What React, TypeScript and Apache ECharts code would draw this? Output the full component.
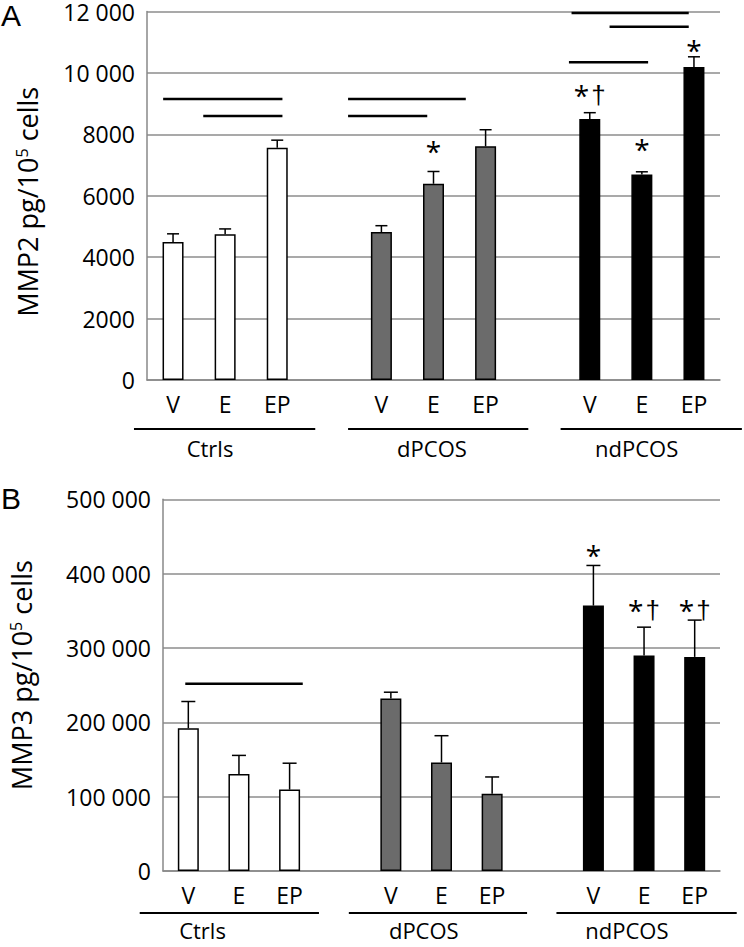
import React, { useEffect, useRef } from 'react';
import * as echarts from 'echarts';

const FONT = '"Open Sans", "Liberation Sans", sans-serif';
const MARK_FONT = '"Liberation Sans", Arial, sans-serif';

// ---------- data ----------
const categories = ['V', 'E', 'EP', '', 'V', 'E', 'EP', '', 'V', 'E', 'EP'];
const groupOfCategory = [0, 0, 0, -1, 1, 1, 1, -1, 2, 2, 2];
const groupNames = ['Ctrls', 'dPCOS', 'ndPCOS'];
const panelLetters = ['A', 'B'];

const mmp2Means = [4490, 4750, 7560, null, 4820, 6390, 7610, null, 8500, 6690, 10190];
const mmp2Errors = [270, 170, 250, null, 205, 400, 540, null, 205, 90, 335];
const mmp3Means = [192000, 130500, 109500, null, 232000, 146000, 104000, null, 357000, 290000, 288000];
const mmp3Errors = [36000, 25000, 35500, null, 8500, 36000, 22500, null, 54000, 38000, 49500];

// significance markers: category index, value level of the mark, text (s = *, d = †)
const mmp2MarkIdx = [5, 8, 9, 10];
const mmp2MarkVal = [7620, 9440, 7690, 10920];
const mmp2MarkTxt = ['{s|*}', '{s|*}{d|\u200A†}', '{s|*}', '{s|*}'];
const mmp3MarkIdx = [8, 9, 10];
const mmp3MarkVal = [432000, 358000, 358000];
const mmp3MarkTxt = ['{s|*}', '{s|*}{d|\u200A†}', '{s|*}{d|\u200A†}'];

// comparison lines: [from slot, to slot, value level]
const mmp2Lines = [
  [0.31, 2.6, 9150], [1.08, 2.6, 8600],
  [3.86, 6.12, 9150], [3.86, 5.38, 8600],
  [8.15, 10.4, 11950], [8.88, 10.4, 11500], [8.1, 9.62, 10350],
];
const mmp3Lines = [[0.44, 2.76, 252000]];

// group brackets under axis: [from slot, to slot, label slot]
const mmp2Groups = [[-0.25, 3.23, 1.21], [3.86, 7.32, 5.47], [7.94, 11.42, 9.4]];
const mmp3Groups = [[-0.46, 3.08, 0.78], [3.67, 7.19, 5.15], [7.77, 11.33, 9.16]];

const groupColors = ['#ffffff', '#6b6b6b', '#000000'];

function fmt(v: number) {
  const s = String(v);
  return v >= 10000 ? s.replace(/\B(?=(\d{3})+(?!\d))/g, ' ') : s;
}

function barData(means: (number | null)[]) {
  return means.map((m, i) =>
    m == null
      ? '-'
      : {
          value: m,
          itemStyle: { color: groupColors[groupOfCategory[i]], borderColor: '#000', borderWidth: 1.5 },
        }
  );
}

function errData(means: (number | null)[], errs: (number | null)[]) {
  const out: number[][] = [];
  means.forEach((m, i) => {
    if (m != null && errs[i] != null) out.push([i, m, errs[i] as number]);
  });
  return out;
}

const errRender = (capW: number) => (params: any, api: any) => {
  const i = api.value(0), m = api.value(1), e = api.value(2);
  const base = api.coord([i, m]);
  const top = api.coord([i, m + e]);
  return {
    type: 'group',
    children: [
      { type: 'line', shape: { x1: base[0], y1: base[1], x2: top[0], y2: top[1] }, style: { stroke: '#000', lineWidth: 1.5 } },
      { type: 'line', shape: { x1: top[0] - capW / 2, y1: top[1], x2: top[0] + capW / 2, y2: top[1] }, style: { stroke: '#000', lineWidth: 1.5 } },
    ],
  };
};

const markRender = (texts: string[]) => (params: any, api: any) => {
  const p = api.coord([api.value(0), api.value(1)]);
  return {
    type: 'text',
    x: p[0],
    y: p[1] + 5,
    style: {
      text: texts[params.dataIndex], fill: '#000', align: 'center', verticalAlign: 'middle',
      rich: {
        s: { fontSize: 28, fontFamily: FONT, fill: '#000', lineHeight: 30 },
        d: { fontSize: 26, fontFamily: MARK_FONT, fill: '#000', lineHeight: 30 },
      },
    },
  };
};

const lineRender = (params: any, api: any) => {
  const p0 = api.coord([api.value(0), api.value(2)]);
  const p1 = api.coord([api.value(1), api.value(2)]);
  return { type: 'line', shape: { x1: p0[0], y1: p0[1], x2: p1[0], y2: p1[1] }, style: { stroke: '#000', lineWidth: 2.5 } };
};

const groupRender = (lineOff: number, labelOff: number) => (params: any, api: any) => {
  const p0 = api.coord([api.value(0), 0]);
  const p1 = api.coord([api.value(1), 0]);
  const pl = api.coord([api.value(2), 0]);
  return {
    type: 'group',
    children: [
      { type: 'line', shape: { x1: p0[0], y1: p0[1] + lineOff, x2: p1[0], y2: p1[1] + lineOff }, style: { stroke: '#000', lineWidth: 2 } },
      {
        type: 'text', x: pl[0], y: pl[1] + labelOff,
        style: { text: groupNames[params.dataIndex], fill: '#000', fontSize: 22, lineHeight: 22, fontFamily: FONT, align: 'center', verticalAlign: 'middle' },
      },
    ],
  };
};

function makeYAxis(gridIndex: number, max: number, interval: number, nameTop: string, nameGap: number, namePad: number[]) {
  return {
    type: 'value', gridIndex, min: 0, max, interval,
    name: `{a|${nameTop}}{s|5}{a| cells}`,
    nameLocation: 'middle', nameGap,
    nameTextStyle: {
      padding: namePad,
      rich: {
        a: { fontSize: 27, fontFamily: FONT, color: '#000' },
        s: { fontSize: 16, fontFamily: FONT, color: '#000', verticalAlign: 'top' },
      },
    },
    axisLine: { show: true, lineStyle: { color: '#888', width: 1.5 } },
    axisTick: { show: false },
    splitLine: { lineStyle: { color: '#8c8c8c', width: 1.5 } },
    axisLabel: {
      fontSize: 23, lineHeight: 16, padding: [5, 0, 0, 0], fontFamily: FONT, color: '#000', margin: 12,
      formatter: (v: number) => fmt(v),
    },
  };
}

function makeCatAxis(gridIndex: number) {
  return {
    type: 'category', gridIndex, data: categories,
    axisLine: { show: true, lineStyle: { color: '#888', width: 1.5 } },
    axisTick: { show: false },
    axisLabel: { fontSize: 23, fontFamily: FONT, color: '#000', margin: 12, interval: 0 },
  };
}

export default function App() {
  const ref = useRef<HTMLDivElement>(null);
  useEffect(() => {
    document.body.style.margin = '0';
    const chart = echarts.init(ref.current!, null, { renderer: 'svg' });
    chart.setOption({
      animation: false,
      backgroundColor: '#fff',
      textStyle: { fontFamily: FONT },
      title: panelLetters.map((t, k) => ({
        text: t,
        left: 1,
        top: k === 0 ? 1 : 484,
        padding: 0,
        textStyle: { fontSize: 30, lineHeight: 28, fontWeight: 'normal', fontFamily: MARK_FONT, color: '#000' },
      })),
      grid: [
        { left: 147, top: 10, width: 573, height: 370 },
        { left: 161.3, top: 499.3, width: 558.7, height: 371.7 },
      ],
      xAxis: [
        makeCatAxis(0),
        { type: 'value', gridIndex: 0, min: 0, max: 11, show: false },
        makeCatAxis(1),
        { type: 'value', gridIndex: 1, min: 0, max: 11, show: false },
      ],
      yAxis: [
        makeYAxis(0, 12000, 2000, 'MMP2 pg/10', 106, [0, 12, 0, 0]),
        makeYAxis(1, 500000, 100000, 'MMP3 pg/10', 128, [0, 0, 0, 20]),
      ],
      series: [
        { type: 'bar', xAxisIndex: 0, yAxisIndex: 0, barWidth: 21, data: barData(mmp2Means) },
        { type: 'custom', xAxisIndex: 0, yAxisIndex: 0, renderItem: errRender(12), data: errData(mmp2Means, mmp2Errors), z: 3 },
        { type: 'custom', xAxisIndex: 0, yAxisIndex: 0, renderItem: markRender(mmp2MarkTxt), data: mmp2MarkIdx.map((k, j) => [k, mmp2MarkVal[j]]), z: 4 },
        { type: 'custom', xAxisIndex: 1, yAxisIndex: 0, renderItem: lineRender, data: mmp2Lines, clip: false, z: 4 },
        { type: 'custom', xAxisIndex: 1, yAxisIndex: 0, renderItem: groupRender(49, 68), data: mmp2Groups, clip: false, z: 4 },

        { type: 'bar', xAxisIndex: 2, yAxisIndex: 1, barWidth: 21, data: barData(mmp3Means) },
        { type: 'custom', xAxisIndex: 2, yAxisIndex: 1, renderItem: errRender(14), data: errData(mmp3Means, mmp3Errors), z: 3 },
        { type: 'custom', xAxisIndex: 2, yAxisIndex: 1, renderItem: markRender(mmp3MarkTxt), data: mmp3MarkIdx.map((k, j) => [k, mmp3MarkVal[j]]), z: 4 },
        { type: 'custom', xAxisIndex: 3, yAxisIndex: 1, renderItem: lineRender, data: mmp3Lines, clip: false, z: 4 },
        { type: 'custom', xAxisIndex: 3, yAxisIndex: 1, renderItem: groupRender(42, 59), data: mmp3Groups, clip: false, z: 4 },
      ],
    });
    return () => chart.dispose();
  }, []);
  return <div ref={ref} style={{ width: 744, height: 947 }} />;
}
